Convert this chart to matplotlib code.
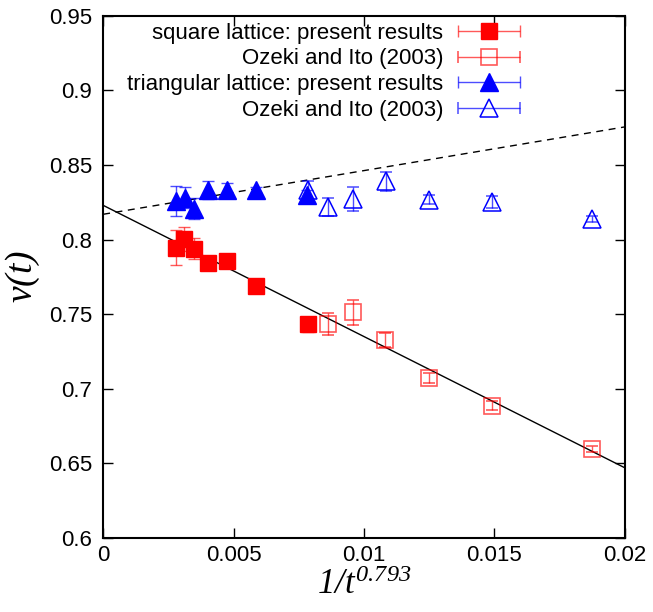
import matplotlib
matplotlib.use("Agg")
import matplotlib.pyplot as plt
from matplotlib.legend_handler import HandlerErrorbar
import numpy as np

plt.rcParams['font.family'] = ['Liberation Sans', 'DejaVu Sans']
plt.rcParams['mathtext.fontset'] = 'custom'
plt.rcParams['mathtext.rm'] = 'Liberation Serif:italic'
plt.rcParams['mathtext.it'] = 'Liberation Serif:italic'

# square lattice, present results
sq_x = [0.0028, 0.0031, 0.00349, 0.0040, 0.00474, 0.00585, 0.00784]
sq_y = [0.7947, 0.8003, 0.794, 0.7846, 0.786, 0.769, 0.7433]
sq_e = [0.012, 0.008, 0.007, 0.004, 0.004, 0.002, 0.005]

# square lattice, Ozeki and Ito (2003)
oz_sq_x = [0.0086, 0.00958, 0.01082, 0.0125, 0.01492, 0.01872]
oz_sq_y = [0.7433, 0.7513, 0.7328, 0.7071, 0.6885, 0.6595]
oz_sq_e = [0.0075, 0.0085, 0.0045, 0.0034, 0.003, 0.002]

# triangular lattice, present results
tr_x = [0.00281, 0.00312, 0.0035, 0.0040, 0.00475, 0.00584, 0.00783]
tr_y = [0.826, 0.828, 0.8208, 0.8333, 0.8331, 0.8333, 0.830]
tr_e = [0.010, 0.007, 0.007, 0.006, 0.005, 0.002, 0.003]

# triangular lattice, Ozeki and Ito (2003)
oz_tr_x = [0.00784, 0.00863, 0.00958, 0.01083, 0.0125, 0.01492, 0.01872]
oz_tr_y = [0.833, 0.8218, 0.8273, 0.839, 0.8266, 0.8253, 0.8138]
oz_tr_e = [0.006, 0.006, 0.0078, 0.0066, 0.003, 0.004, 0.0018]

labels = ['square lattice: present results', 'Ozeki and Ito (2003)',
          'triangular lattice: present results', 'Ozeki and Ito (2003)']

# linear fits (intercept, slope)
fit_sq = (0.823, -8.8)
fit_tr = (0.817, 2.93)

fig = plt.figure(figsize=(6.53, 6.12), dpi=100)
ax = fig.add_axes([0.158, 0.121, 0.799, 0.853])

xs = np.array([0.0, 0.02])
ax.plot(xs, fit_sq[0] + fit_sq[1] * xs, color='black', lw=1.0, zorder=1)
ax.plot(xs, fit_tr[0] + fit_tr[1] * xs, color='black', lw=1.0, ls=(0, (5, 4)), zorder=1)

red = '#ff0000'
blue = '#0000ff'
red_e = (1.0, 0.0, 0.0, 0.65)
blue_e = (0.0, 0.0, 1.0, 0.7)
ekw = dict(elinewidth=1.0, capsize=4, capthick=1.0, ls='none')

ax.errorbar(oz_sq_x, oz_sq_y, yerr=oz_sq_e, fmt='s', ms=11, mfc='none', mec=red_e,
            mew=1.2, ecolor=red_e, color=red, **ekw)
ax.errorbar(sq_x, sq_y, yerr=sq_e, fmt='s', ms=11.5, mfc=red, mec=red,
            ecolor=red_e, color=red, **ekw)
ax.errorbar(oz_tr_x, oz_tr_y, yerr=oz_tr_e, fmt='^', ms=13, mfc='none', mec=blue,
            mew=1.1, ecolor=blue_e, color=blue, **ekw)
ax.errorbar(tr_x, tr_y, yerr=tr_e, fmt='^', ms=13, mfc=blue, mec=blue,
            ecolor=blue_e, color=blue, **ekw)

# legend entries drawn with horizontal error bars
h1 = ax.errorbar([np.nan], [np.nan], xerr=[1], fmt='s', ms=11.5, mfc=red, mec=red,
                 ecolor=red_e, color=red, **ekw)
h2 = ax.errorbar([np.nan], [np.nan], xerr=[1], fmt='s', ms=11, mfc='none', mec=red_e,
                 mew=1.2, ecolor=red_e, color=red, **ekw)
h3 = ax.errorbar([np.nan], [np.nan], xerr=[1], fmt='^', ms=13, mfc=blue, mec=blue,
                 ecolor=blue_e, color=blue, **ekw)
h4 = ax.errorbar([np.nan], [np.nan], xerr=[1], fmt='^', ms=13, mfc='none', mec=blue,
                 mew=1.1, ecolor=blue_e, color=blue, **ekw)
ax.legend([h1, h2, h3, h4], labels,
          loc='upper right', bbox_to_anchor=(0.799, 0.987), frameon=False,
          markerfirst=False, fontsize=16, handlelength=2.8, numpoints=1,
          labelspacing=0.21, borderpad=0.0, borderaxespad=0.0, handletextpad=0.65,
          handler_map={type(h1): HandlerErrorbar(xerr_size=1.4)})

ax.set_xlim(0, 0.02)
ax.set_ylim(0.6, 0.95)
ax.set_xticks([0, 0.005, 0.01, 0.015, 0.02])
ax.set_xticklabels(['0', '0.005', '0.01', '0.015', '0.02'])
ax.set_yticks([0.6, 0.65, 0.7, 0.75, 0.8, 0.85, 0.9, 0.95])
ax.set_yticklabels(['0.6', '0.65', '0.7', '0.75', '0.8', '0.85', '0.9', '0.95'])
ax.tick_params(direction='in', length=7, width=1.0, labelsize=16,
               top=True, right=True)
ax.tick_params(axis='y', pad=8)
ax.tick_params(axis='x', pad=5)
for s in ax.spines.values():
    s.set_linewidth(1.5)

ax.set_xlabel(r'$1/t^{0.793}$', fontsize=25)
ax.xaxis.set_label_coords(0.5, -0.058)
ax.xaxis.label.set_va('top')
ax.set_ylabel(r'$\nu(t)$', fontsize=27)
ax.yaxis.set_label_coords(-0.118, 0.5)

fig.savefig('out.png', dpi=100)
